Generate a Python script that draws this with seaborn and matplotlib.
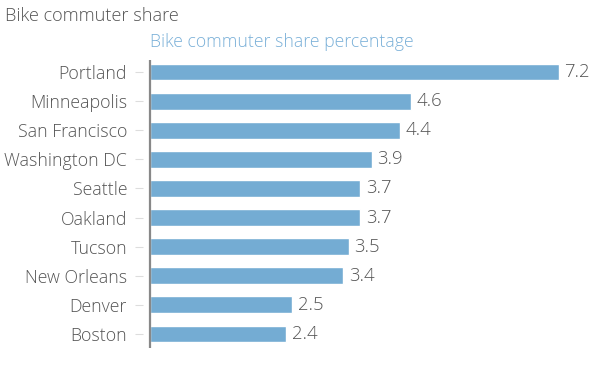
import pandas as pd
import matplotlib.pyplot as plt
import seaborn as sns

# data
cities = ["Portland", "Minneapolis", "San Francisco", "Washington DC", "Seattle",
          "Oakland", "Tucson", "New Orleans", "Denver", "Boston"]
share = [7.2, 4.6, 4.4, 3.9, 3.7, 3.7, 3.5, 3.4, 2.5, 2.4]

df = pd.DataFrame({"City": cities, "Share": share})

sns.set_theme(style="white")
plt.rcParams["font.family"] = ["Open Sans", "DejaVu Sans"]
plt.rcParams["font.weight"] = "light"

W, H = 600, 380
fig = plt.figure(figsize=(6, 3.8), dpi=100)
ax = fig.add_axes([143 / W, 1 - 348 / H, (600 - 143) / W, (348 - 60) / H])

bar_color = "#74acd3"
sns.barplot(data=df, x="Share", y="City", orient="h", color=bar_color,
            width=0.58, saturation=1, ax=ax)

px_per_unit = 56.8
ax.set_xlim(-7 / px_per_unit, (600 - 150) / px_per_unit)
ax.set_ylim(9 + 14 / 29.1, -12 / 29.1)

for s in ax.spines.values():
    s.set_visible(False)
ax.axvline(0, color="#888888", lw=1.6)

ax.set_xticks([])
ax.set_xlabel("")
ax.set_ylabel("")
ax.tick_params(axis="y", left=True, length=6, width=0.8, color="#dddddd",
               pad=5.5, labelsize=12.8, labelcolor="#555555")
for t in ax.get_yticklabels():
    t.set_fontweight("light")

ax.bar_label(ax.containers[0], labels=[f"{v:.1f}" for v in share], padding=4,
             fontsize=13.3, color="#555555", fontweight="light")

fig.text(5 / W, 1 - 16 / H, "Bike commuter share", fontsize=13.1, color="#555555",
         va="center", ha="left", fontweight="light")
fig.text(150 / W, 1 - 42 / H, "Bike commuter share percentage", fontsize=12.7,
         color="#7ab0d8", va="center", ha="left", fontweight="light")

fig.savefig("out.png", dpi=100)
